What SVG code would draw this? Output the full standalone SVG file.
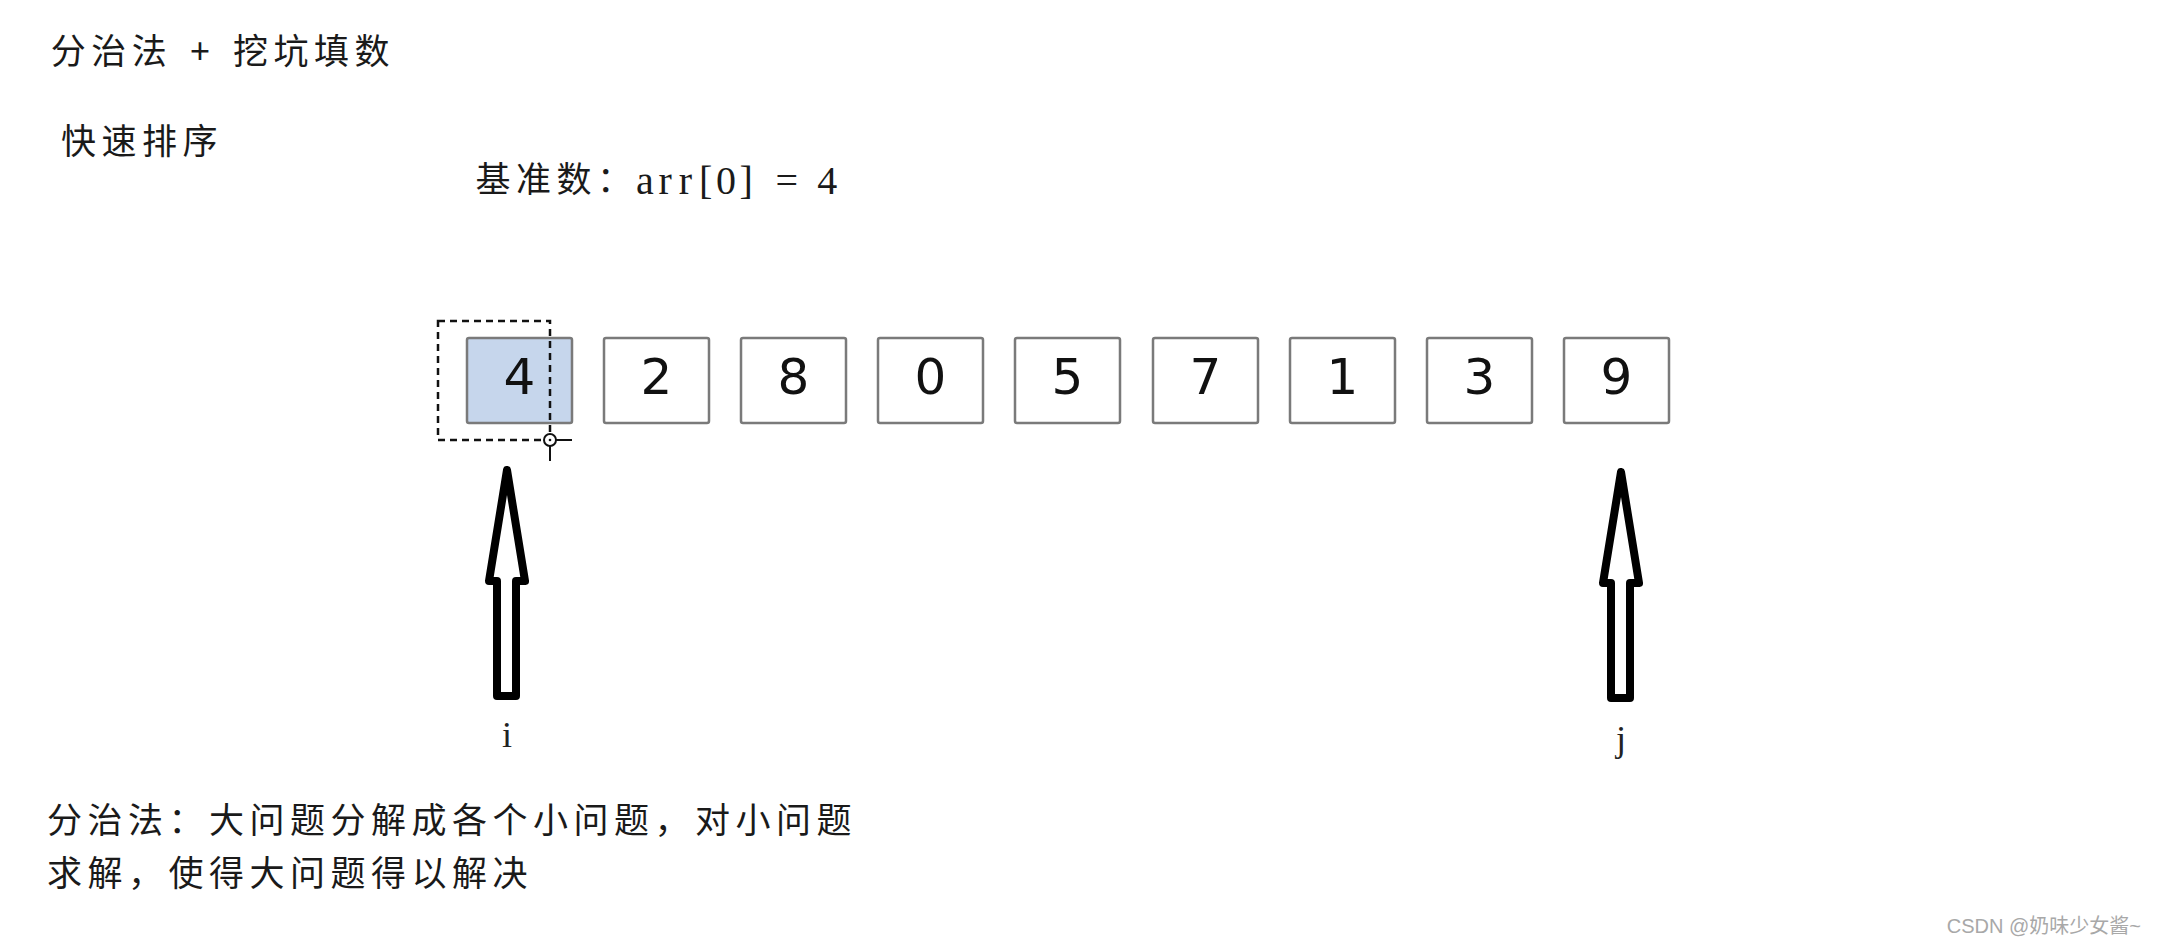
<svg xmlns="http://www.w3.org/2000/svg" width="2158" height="946" viewBox="0 0 2158 946">
<style>
.cjk{font-family:"Noto Sans CJK SC","Noto Sans",sans-serif;font-size:35px;fill:#1a1a1a;letter-spacing:5.5px}
.mix{font-family:"Noto Sans CJK SC","Noto Sans",sans-serif;font-size:35px;fill:#1a1a1a;text-anchor:middle}
.lat{font-family:"Liberation Serif","Noto Sans CJK SC",serif;font-size:40px;fill:#1a1a1a;text-anchor:middle}
.box{fill:#ffffff;stroke:#7a7a7a;stroke-width:2.5}
.box.hl{fill:#c6d6ec}
.num{font-family:"DejaVu Sans",Verdana,sans-serif;font-size:50px;fill:#111;text-anchor:middle}
.ptr{fill:#ffffff;stroke:#000;stroke-width:8;stroke-linejoin:round}
.lbl{font-family:"Liberation Serif",serif;font-size:36px;fill:#222;text-anchor:middle}
.sel{fill:none;stroke:#111;stroke-width:2.5;stroke-dasharray:7 5}
.mark{font-family:"Liberation Sans","Noto Sans CJK SC",sans-serif;font-size:20px;fill:#a8a8a8;text-anchor:end}
</style>
<defs>
<path id="uparrow" d="M0,0 L18,111 L9,111 L9,226 L-10,226 L-10,111 L-18,111 Z"/>
</defs>
<rect x="0" y="0" width="2158" height="946" fill="#ffffff"/>

<g id="title">
<text class="mix" y="64" x="68.25 108.75 149.25 179.625 199.875 220.125 250.5 291 331.5 372">分治法 + 挖坑填数</text>
</g>
<g id="subtitle">
<text class="cjk" x="61" y="154">快速排序</text>
</g>
<g id="pivot">
<text class="mix" y="192" x="493 533.5 574 614.5">基准数：</text>
<text class="lat" y="194" x="645 665.25 685.5 705.75 726 746.25 766.5 786.75 807 827.25">arr[0] = 4</text>
</g>

<g id="cells">
<g id="cell-0"><rect class="box hl" x="467" y="338" width="105" height="85" rx="2"/><text class="num" x="519.5" y="394">4</text></g>
<g id="cell-1"><rect class="box" x="604" y="338" width="105" height="85" rx="2"/><text class="num" x="656.5" y="394">2</text></g>
<g id="cell-2"><rect class="box" x="741" y="338" width="105" height="85" rx="2"/><text class="num" x="793.5" y="394">8</text></g>
<g id="cell-3"><rect class="box" x="878" y="338" width="105" height="85" rx="2"/><text class="num" x="930.5" y="394">0</text></g>
<g id="cell-4"><rect class="box" x="1015" y="338" width="105" height="85" rx="2"/><text class="num" x="1067.5" y="394">5</text></g>
<g id="cell-5"><rect class="box" x="1153" y="338" width="105" height="85" rx="2"/><text class="num" x="1205.5" y="394">7</text></g>
<g id="cell-6"><rect class="box" x="1290" y="338" width="105" height="85" rx="2"/><text class="num" x="1342.5" y="394">1</text></g>
<g id="cell-7"><rect class="box" x="1427" y="338" width="105" height="85" rx="2"/><text class="num" x="1479.5" y="394">3</text></g>
<g id="cell-8"><rect class="box" x="1564" y="338" width="105" height="85" rx="2"/><text class="num" x="1616.5" y="394">9</text></g>
</g>

<g id="selection">
<rect class="sel" x="438" y="321" width="112" height="119"/>
<line x1="556" y1="440" x2="572" y2="440" stroke="#111" stroke-width="2"/>
<line x1="550" y1="446" x2="550" y2="461" stroke="#111" stroke-width="2"/>
<circle cx="550" cy="440" r="6" fill="#ffffff" stroke="#111" stroke-width="2"/>
<circle cx="550" cy="440" r="1.3" fill="#111"/>
</g>

<g id="connectors">
<g id="pointer-i"><use href="#uparrow" class="ptr" x="507" y="470"/><text class="lbl" x="507" y="747">i</text></g>
<g id="pointer-j"><use href="#uparrow" class="ptr" x="1621" y="472"/><text class="lbl" x="1621" y="751">j</text></g>
</g>

<g id="note">
<text class="cjk" x="47" y="833">分治法：大问题分解成各个小问题，对小问题</text>
<text class="cjk" x="47" y="886">求解，使得大问题得以解决</text>
</g>

<text class="mark" x="2141" y="933">CSDN @奶味少女酱~</text>
</svg>
